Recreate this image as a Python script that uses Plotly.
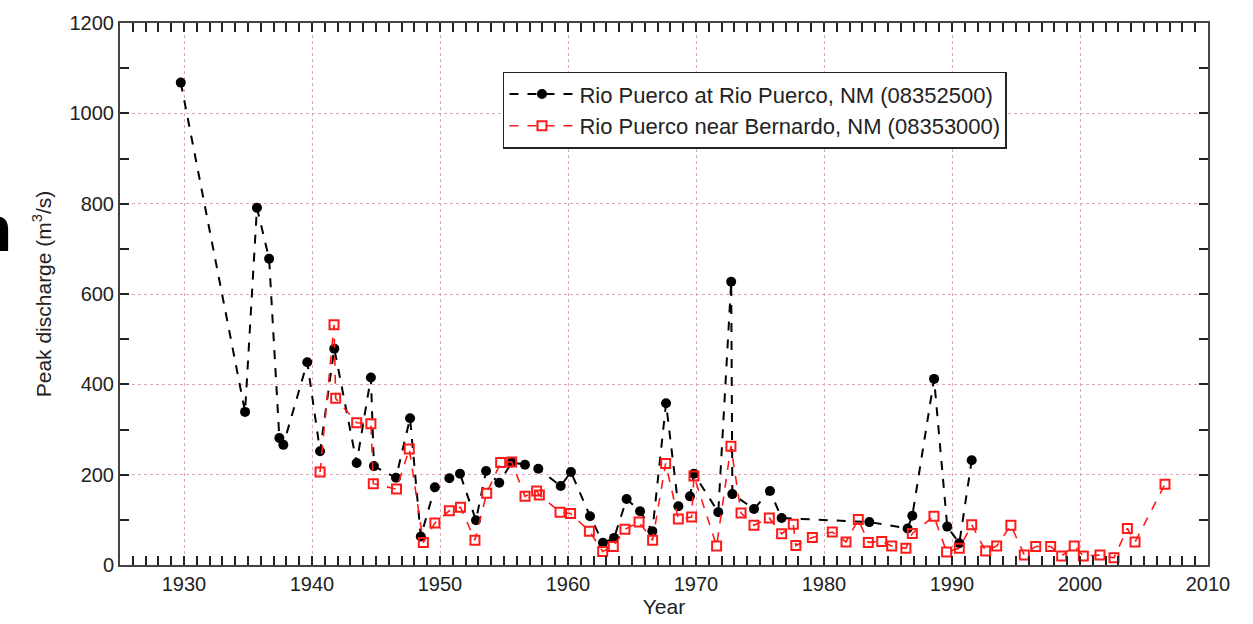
import plotly.graph_objects as go

# Rio Puerco at Rio Puerco, NM (08352500)
puerco_years = [1929.75, 1934.77, 1935.7, 1936.65, 1937.45, 1937.76, 1939.63, 1940.63, 1941.74,
                1943.49, 1944.6, 1944.84, 1946.56, 1947.66, 1948.5, 1949.6, 1950.73, 1951.56,
                1952.81, 1953.6, 1954.63, 1955.6, 1956.64, 1957.68, 1959.43, 1960.23, 1961.72,
                1962.73, 1963.6, 1964.58, 1965.63, 1966.59, 1967.66, 1968.62, 1969.53, 1969.84,
                1971.74, 1972.75, 1972.84, 1974.53, 1975.78, 1976.69, 1983.54, 1986.53, 1986.9,
                1988.6, 1989.63, 1990.57, 1991.54]
puerco_q = [1068, 339, 791, 678, 281, 266, 449, 252, 479,
            226, 415, 219, 193, 325, 63, 172, 192, 202,
            99, 208, 182, 227, 222, 213, 175, 206, 108,
            49, 60, 146, 119, 75, 358, 130, 152, 202,
            117, 627, 157, 124, 164, 104, 95, 81, 109,
            412, 85, 48, 232]

# Rio Puerco near Bernardo, NM (08353000)
bernardo_years = [1940.63, 1941.72, 1941.85, 1943.49, 1944.6, 1944.79, 1946.6, 1947.6, 1948.7,
                  1949.6, 1950.73, 1951.6, 1952.73, 1953.65, 1954.74, 1955.6, 1956.64, 1957.55,
                  1957.76, 1959.38, 1960.2, 1961.67, 1962.71, 1963.54, 1964.45, 1965.55, 1966.61,
                  1967.63, 1968.62, 1969.66, 1969.84, 1971.61, 1972.73, 1973.52, 1974.53, 1975.73,
                  1976.69, 1977.6, 1977.8, 1979.09, 1980.65, 1981.72, 1982.68, 1983.46, 1984.51,
                  1985.29, 1986.4, 1986.9, 1988.59, 1989.58, 1990.57, 1991.54, 1992.63, 1993.49,
                  1994.6, 1995.65, 1996.54, 1997.71, 1998.57, 1999.55, 2000.26, 2001.56, 2002.66,
                  2003.7, 2004.3, 2006.64]
bernardo_q = [206, 532, 369, 315, 313, 180, 168, 257, 50,
              93, 120, 128, 55, 159, 227, 228, 152, 164,
              155, 117, 114, 75, 30, 41, 79, 95, 55,
              225, 102, 106, 197, 42, 263, 115, 88, 104,
              69, 90, 43, 61, 73, 51, 101, 50, 52,
              42, 37, 70, 108, 29, 37, 89, 31, 42,
              88, 22, 41, 41, 20, 42, 20, 22, 16,
              81, 51, 179]

x_ticks = [1930, 1940, 1950, 1960, 1970, 1980, 1990, 2000, 2010]
y_ticks = [0, 200, 400, 600, 800, 1000, 1200]

font_family = "Liberation Sans, Arial, sans-serif"
grid_color = "#d8a8b4"
text_color = "#222"

fig = go.Figure()
fig.add_trace(go.Scatter(
    x=puerco_years, y=puerco_q, mode="lines+markers",
    name="Rio Puerco at Rio Puerco, NM (08352500)",
    line=dict(color="black", width=2, dash="dash"),
    marker=dict(symbol="circle", size=10, color="black"),
))
fig.add_trace(go.Scatter(
    x=bernardo_years, y=bernardo_q, mode="lines+markers",
    name="Rio Puerco near Bernardo, NM (08353000)",
    line=dict(color="#ff1a1a", width=1.6, dash="dash"),
    marker=dict(symbol="square-open", size=9, color="#ff1a1a", line=dict(width=2, color="#ff1a1a")),
))
# invisible trace to carry the top (mirrored) tick axis
fig.add_trace(go.Scatter(x=[1925, 2010], y=[None, None], xaxis="x2", showlegend=False,
                         mode="lines", hoverinfo="skip"))

fig.update_layout(
    width=1253, height=624,
    margin=dict(l=120, r=45, t=18, b=58),
    paper_bgcolor="white", plot_bgcolor="white",
    font=dict(family=font_family, size=20, color=text_color),
    showlegend=True,
    legend=dict(
        x=0.352, y=0.91, xanchor="left", yanchor="top",
        bordercolor="#222", borderwidth=1.5, bgcolor="white",
        font=dict(size=22, family=font_family, color=text_color),
        itemwidth=65, tracegroupgap=0,
    ),
    xaxis=dict(
        range=[1925, 2010], tickvals=x_ticks, ticks="inside", ticklen=9, tickwidth=1.5,
        tickcolor="#222", showline=True, linecolor="#444", linewidth=2, mirror=True,
        showgrid=True, gridcolor=grid_color, griddash="dot", gridwidth=1,
        minor=dict(dtick=1, ticks="inside", ticklen=9, tickwidth=1.5, tickcolor="#222", showgrid=False),
        zeroline=False,
        title=dict(text="Year", font=dict(size=21, family=font_family), standoff=2),
        tickfont=dict(size=20, family=font_family),
    ),
    xaxis2=dict(
        range=[1925, 2010], overlaying="x", side="top", tickvals=x_ticks, ticks="inside",
        ticklen=9, tickwidth=1.5, tickcolor="#222", showticklabels=False, showgrid=False,
        minor=dict(dtick=1, ticks="inside", ticklen=9, tickwidth=1.5, tickcolor="#222", showgrid=False),
        zeroline=False, showline=False,
    ),
    yaxis=dict(
        range=[0, 1200], tickvals=y_ticks, ticks="inside", ticklen=9, tickwidth=1.5,
        tickcolor="#222", showline=True, linecolor="#444", linewidth=2, mirror="allticks",
        showgrid=True, gridcolor=grid_color, griddash="dot", gridwidth=1,
        minor=dict(dtick=100, ticks="inside", ticklen=9, tickwidth=1.5, tickcolor="#222", showgrid=False),
        zeroline=False,
        title=dict(text="Peak discharge (m<sup>3</sup>/s)", font=dict(size=21, family=font_family), standoff=12),
        tickfont=dict(size=20, family=font_family),
    ),
)

fig.add_annotation(
    text="<b>n</b>", xref="paper", yref="paper", x=-0.125, y=0.62, xanchor="right", yanchor="middle",
    showarrow=False, font=dict(size=64, family="Liberation Sans, Arial", color="black"),
    xshift=30,
)

fig.write_html("out.html")
